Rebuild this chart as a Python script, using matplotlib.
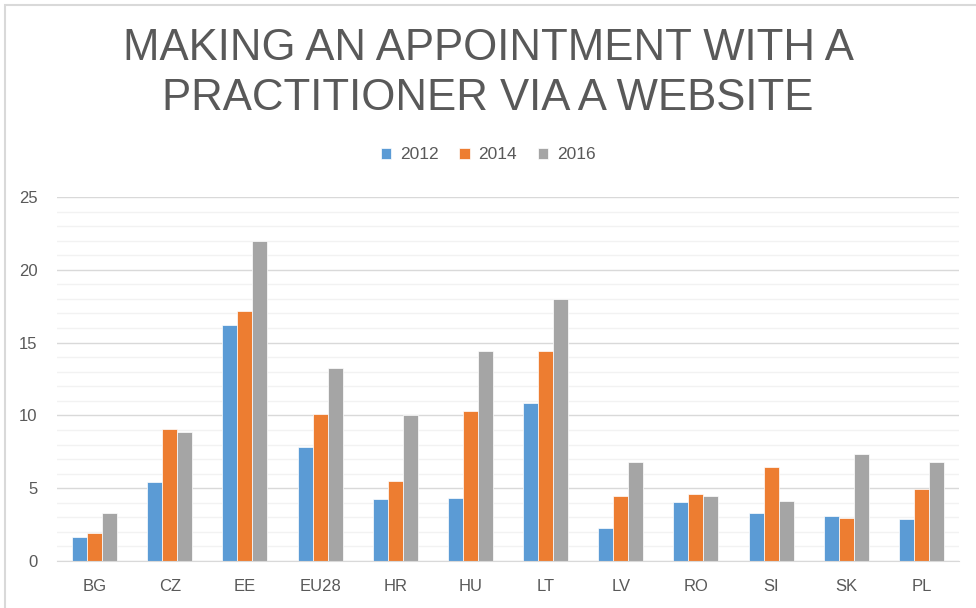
import numpy as np
import matplotlib
matplotlib.use("Agg")
import matplotlib.pyplot as plt
from matplotlib.patches import Rectangle

countries = ["BG", "CZ", "EE", "EU28", "HR", "HU", "LT", "LV", "RO", "SI", "SK", "PL"]
years = ["2012", "2014", "2016"]
v2012 = [1.65, 5.4, 16.2, 7.8, 4.25, 4.3, 10.85, 2.25, 4.05, 3.3, 3.1, 2.9]
v2014 = [1.9, 9.1, 17.15, 10.1, 5.5, 10.3, 14.4, 4.45, 4.6, 6.45, 2.95, 4.95]
v2016 = [3.3, 8.85, 22.0, 13.25, 10.0, 14.4, 18.0, 6.8, 4.45, 4.1, 7.35, 6.8]
colors = ["#5B9BD5", "#ED7D31", "#A5A5A5"]
txt = "#595959"

plt.rcParams['font.family'] = ['Liberation Sans', 'DejaVu Sans']

fig = plt.figure(figsize=(9.76, 6.08), dpi=100)
# chart frame (cut at right and bottom like the screenshot)
fig.patches.append(Rectangle((5 / 976, -0.1), 1.2, 1.1 - 5 / 608, transform=fig.transFigure,
                             fill=False, edgecolor="#D9D9D9", linewidth=1.5))
ax = fig.add_axes([57 / 976, (608 - 561) / 608, (959 - 57) / 976, (561 - 197) / 608])

x = np.arange(len(countries))
w = 0.2
for i, (vals, yr) in enumerate(zip([v2012, v2014, v2016], years)):
    ax.bar(x + (i - 1) * w, vals, w, color=colors[i], label=yr,
           edgecolor="white", linewidth=0.5, zorder=3)

ax.set_xlim(-0.5, len(countries) - 0.5)
ax.set_ylim(0, 25)
ax.set_yticks(range(0, 26, 5))
ax.set_yticks(range(0, 26, 1), minor=True)
ax.grid(axis="y", which="major", color="#D9D9D9", linewidth=1, zorder=0)
ax.grid(axis="y", which="minor", color="#F2F2F2", linewidth=1, zorder=0)
ax.set_xticks(x)
ax.set_xticklabels(countries)
ax.tick_params(axis="both", which="both", length=0, colors=txt, labelsize=12)
ax.tick_params(axis="x", pad=13)
ax.tick_params(axis="y", pad=14)
for s in ["top", "right", "left"]:
    ax.spines[s].set_visible(False)
ax.spines["bottom"].set_color("#D9D9D9")
ax.spines["bottom"].set_zorder(4)

fig.text(0.5, 1 - 48 / 608, "MAKING AN APPOINTMENT WITH A", ha="center", va="center",
         fontsize=31.5, color=txt)
fig.text(0.5, 1 - 99 / 608, "PRACTITIONER VIA A WEBSITE", ha="center", va="center",
         fontsize=31.5, color=txt)
fig.legend(loc="center", bbox_to_anchor=(0.5, 1 - 155 / 608), ncol=3, frameon=False,
           fontsize=12.5, labelcolor=txt, handlelength=0.6, handleheight=0.6,
           columnspacing=1.2, handletextpad=0.5)

fig.savefig("out.png", dpi=100)
